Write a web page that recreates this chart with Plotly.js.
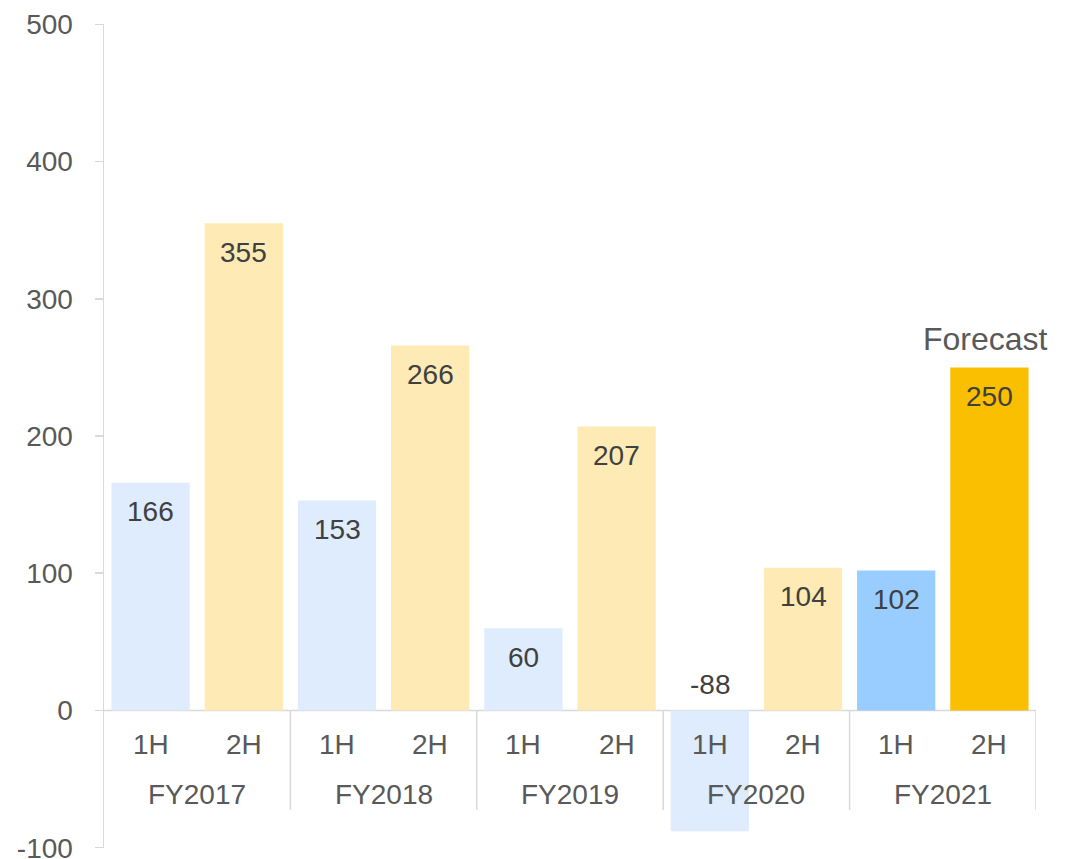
<!DOCTYPE html>
<html><head><meta charset="utf-8">
<script src="https://cdn.plot.ly/plotly-3.0.1.min.js"></script>
<style>html,body{margin:0;padding:0;background:#fff}#chart{width:1076px;height:859px}</style>
</head><body><div id="chart"></div>
<script>
const years = ["FY2017","FY2018","FY2019","FY2020","FY2021"];
const halves = ["1H","2H","1H","2H","1H","2H","1H","2H","1H","2H"];
const values = [166,355,153,266,60,207,-88,104,102,250];
const yTicks = [-100,0,100,200,300,400,500];
const forecastLabel = "Forecast";

const idx = values.map((v,i)=>i);
const colors = idx.map(i => i>=8 ? (i%2===0 ? "#99CCFF" : "#F9BF00") : (i%2===0 ? "#DEECFD" : "#FDEAB4"));
const FONT = 'Liberation Sans, Arial';

const annotations = [];
values.forEach((v,i)=>{
  annotations.push({x:i, y: v>=0 ? v : 0, xref:'x', yref:'y', text:String(v), showarrow:false,
    yanchor:'middle', yshift: v>=0 ? -29 : 26, font:{family:FONT, size:28, color:'#404040'}});
  annotations.push({x:i, y:0, xref:'x', yref:'y', text:halves[i], showarrow:false,
    yanchor:'middle', yshift:-34, font:{family:FONT, size:28, color:'#595959'}});
});
years.forEach((y,k)=>{
  annotations.push({x:2*k+0.5, y:0, xref:'x', yref:'y', text:y, showarrow:false,
    yanchor:'middle', yshift:-84, font:{family:FONT, size:28, color:'#595959'}});
});
annotations.push({x:9, y:values[9], xref:'x', yref:'y', text:forecastLabel, showarrow:false,
  yanchor:'middle', yshift:28, xshift:-4, font:{family:FONT, size:32, color:'#595959'}});

const shapes = [];
for (let k=1;k<=years.length;k++){
  shapes.push({type:'line', xref:'x', yref:'paper', x0:2*k-0.5, x1:2*k-0.5, y0:(848-711)/824, y1:(848-810)/824,
    line:{color:'#D9D9D9', width:1.5}, layer:'below'});
}
shapes.push({type:'line', xref:'paper', yref:'y', x0:0, x1:1, y0:0, y1:0, line:{color:'#D9D9D9', width:1.5}, layer:'below'});

Plotly.newPlot('chart', [{
  type:'bar', x:idx, y:values, marker:{color:colors, line:{width:0}}, width:0.84, hoverinfo:'none'
}], {
  width:1076, height:859,
  margin:{l:104, r:40, t:24, b:11},
  paper_bgcolor:'#fff', plot_bgcolor:'#fff',
  showlegend:false,
  xaxis:{range:[-0.5,9.5], showticklabels:false, showgrid:false, zeroline:false, showline:false, ticks:''},
  yaxis:{range:[-100.2,500.2], tickmode:'array', tickvals:yTicks, ticktext:yTicks.map(String),
    ticklabeloverflow:'allow',
    showgrid:false, zeroline:false, showline:true, linecolor:'#D9D9D9', linewidth:1.5,
    ticks:'outside', ticklen:8, tickcolor:'#D9D9D9', tickwidth:1.5, ticklabelstandoff:16,
    tickfont:{family:FONT, size:28, color:'#595959'}},
  annotations:annotations, shapes:shapes
}, {staticPlot:true});
</script></body></html>
